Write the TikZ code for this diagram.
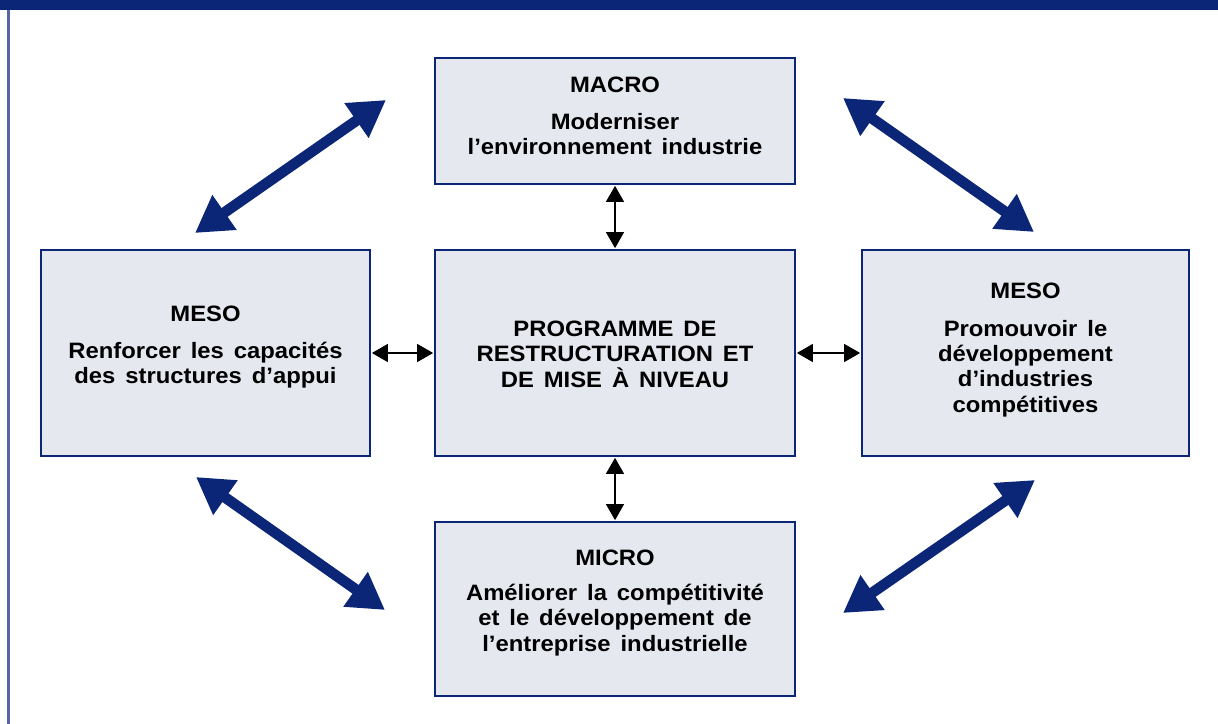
\documentclass[tikz,border=0pt]{standalone}
\usepackage{fontspec}
\setmainfont{Liberation Sans}[FakeStretch=1.07, WordSpace=1.5]
\usetikzlibrary{arrows.meta}
\definecolor{navy}{HTML}{0B2677}
\definecolor{boxfill}{HTML}{E6E8F0}
\definecolor{rule}{HTML}{5565A8}

\begin{document}
\begin{tikzpicture}[x=0.75pt, y=-0.75pt,
  panel/.style={draw=navy, line width=0.8pt, fill=boxfill, inner sep=0pt},
  txt/.style={align=center, inner sep=0pt, font=\bfseries\fontsize{16.7}{19}\selectfont},
  bigarrow/.style={navy, line width=8pt,
    {Triangle[length=27pt, width=30pt]}-{Triangle[length=27pt, width=30pt]}},
  linkarrow/.style={black, line width=0.9pt, shorten <=1pt, shorten >=1pt,
    {Triangle[length=12pt, width=13.5pt]}-{Triangle[length=12pt, width=13.5pt]}}
]
\useasboundingbox (0,0) rectangle (1218,724);

% page frame: header band and left rule
\fill[navy] (0,0) rectangle (1218,10);
\draw[rule, line width=1.8pt] (8.5,10) -- (8.5,724);

% the five panels
\node[panel, minimum width=270pt, minimum height=94.5pt]    (macro) at (615,121) {};
\node[panel, minimum width=270pt, minimum height=154.5pt]   (prog)  at (615,353) {};
\node[panel, minimum width=246.75pt, minimum height=154.5pt] (mesoL) at (205.5,353) {};
\node[panel, minimum width=245.25pt, minimum height=154.5pt] (mesoR) at (1025.5,353) {};
\node[panel, minimum width=270pt, minimum height=130.5pt]   (micro) at (615,609) {};

% panel texts
\node[txt] (macroT) at (615,116) {MACRO\\[9pt]Moderniser\\l’environnement industrie};
\node[txt] (progT)  at (615,354) {PROGRAMME DE\\RESTRUCTURATION ET\\DE MISE À NIVEAU};
\node[txt] (mesoLT) at (205.5,347) {MESO\\[9pt]Renforcer les capacités\\des structures d’appui};
\node[txt] (mesoRT) at (1025.5,350) {MESO\\[9pt]Promouvoir le\\développement\\d’industries\\compétitives};
\node[txt] (microT) at (615,603) {MICRO\\[7pt]Améliorer la compétitivité\\et le développement de\\l’entreprise industrielle};

% links between the programme and the panels around it
\draw[linkarrow] (mesoL.east) -- (prog.west);
\draw[linkarrow] (prog.east) -- (mesoR.west);
\draw[linkarrow] (macro.south) -- (prog.north);
\draw[linkarrow] (prog.south) -- (micro.north);

% large diagonal arrows between the outer panels
\coordinate (tlA) at (195,233);  \coordinate (tlB) at (386,100);
\coordinate (trA) at (843,98);   \coordinate (trB) at (1034,232);
\coordinate (blA) at (196,477);  \coordinate (blB) at (385,610);
\coordinate (brA) at (843,613);  \coordinate (brB) at (1035,480);
\draw[bigarrow] (tlA) -- (tlB);
\draw[bigarrow] (trA) -- (trB);
\draw[bigarrow] (blA) -- (blB);
\draw[bigarrow] (brA) -- (brB);
\end{tikzpicture}
\end{document}
